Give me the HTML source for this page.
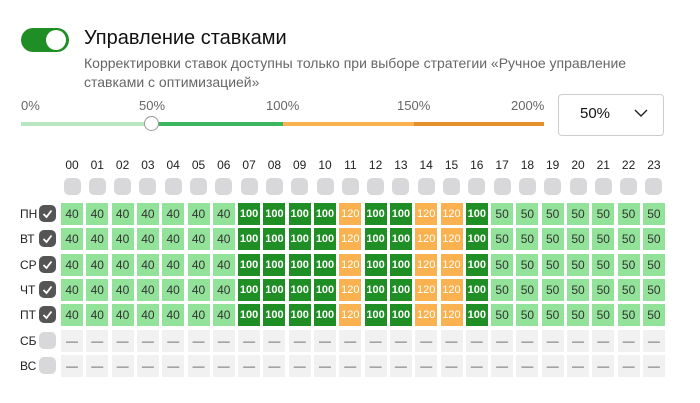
<!DOCTYPE html>
<html><head><meta charset="utf-8"><style>
body{margin:0;width:700px;height:403px;background:#fff;font-family:"Liberation Sans","DejaVu Sans",sans-serif;position:relative;overflow:hidden}
.a{position:absolute}
.c{position:absolute;width:22px;height:22px;font-size:12px;line-height:22px;text-align:center}
.l{background:#93e29a;color:#333}
.d{background:#1f8f25;color:#fff;font-weight:bold;font-size:11px}
.o{background:#f9b24f;color:#fff;font-size:11px}
.e{background:#f1f1f1;color:#555}
.h{position:absolute;font-size:12px;color:#222;width:24px;text-align:center}
.hb{position:absolute;width:17px;height:17px;border-radius:5px;background:#d8d8da}
.dl{position:absolute;font-size:12px;color:#222;left:20px}
.cb{position:absolute;left:39px;width:17px;height:17px;border-radius:5px;background:#555}
</style></head><body>
<div class="a" style="left:21px;top:28px;width:48px;height:24px;border-radius:12px;background:#1f8f25"></div>
<div class="a" style="left:46px;top:30px;width:20px;height:20px;border-radius:10px;background:#fff"></div>
<div class="a" style="left:84px;top:27px;font-size:20px;color:#111">Управление ставками</div>
<div class="a" style="left:84px;top:54px;font-size:14px;color:#666;line-height:19px;width:580px">Корректировки ставок доступны только при выборе стратегии «Ручное управление ставками с оптимизацией»</div>
<div class="a" style="left:21px;top:98px;font-size:13px;color:#666">0%</div>
<div class="a" style="left:139px;top:98px;font-size:13px;color:#666">50%</div>
<div class="a" style="left:266px;top:98px;font-size:13px;color:#666">100%</div>
<div class="a" style="left:397px;top:98px;font-size:13px;color:#666">150%</div>
<div class="a" style="left:511px;top:98px;font-size:13px;color:#666">200%</div>
<div class="a" style="left:21px;top:122px;width:131px;height:4px;background:#b9e6c0"></div>
<div class="a" style="left:152px;top:122px;width:131px;height:4px;background:#3cb661"></div>
<div class="a" style="left:283px;top:122px;width:131px;height:4px;background:#f9b24f"></div>
<div class="a" style="left:414px;top:122px;width:130px;height:4px;background:#e38f2a"></div>
<div class="a" style="left:144px;top:116px;width:13px;height:13px;border-radius:8px;background:#fff;border:1px solid #999"></div>
<div class="a" style="left:558px;top:94px;width:104px;height:40px;border:1px solid #ccc;border-radius:4px"></div>
<div class="a" style="left:580px;top:105px;font-size:15px;color:#111">50%</div>
<svg class="a" style="left:634px;top:109px" width="14" height="9"><path d="M1 1L7 7L13 1" fill="none" stroke="#222" stroke-width="1.4"/></svg>
<div id="g"></div>
<script>
var g='';var cls=['l','l','l','l','l','l','l','d','d','d','d','o','d','d','o','o','d','l','l','l','l','l','l','l'];
var val=[40,40,40,40,40,40,40,100,100,100,100,120,100,100,120,120,100,50,50,50,50,50,50,50];
var days=['ПН','ВТ','СР','ЧТ','ПТ','СБ','ВС'];
for(var i=0;i<24;i++){var x=61+25.3*i;g+='<div class="h" style="left:'+(x-1)+'px;top:158px">'+(i<10?'0':'')+i+'</div><div class="hb" style="left:'+(x+2.5)+'px;top:178px"></div>';}
for(var r=0;r<7;r++){var y=203+25.3*r;g+='<div class="dl" style="top:'+(y+4)+'px">'+days[r]+'</div>';
g+= r<5?'<div class="cb" style="top:'+(y+2)+'px"><svg width="17" height="17"><path d="M4.5 9L7.5 12L12.5 5.5" fill="none" stroke="#fff" stroke-width="1.8"/></svg></div>':'<div class="cb" style="top:'+(y+2)+'px;background:#d8d8da"></div>';
for(var i=0;i<24;i++){var x=61+25.3*i;g+= r<5?'<div class="c '+cls[i]+'" style="left:'+x+'px;top:'+y+'px">'+val[i]+'</div>':'<div class="c e" style="left:'+x+'px;top:'+y+'px">—</div>';}}
document.getElementById('g').innerHTML=g;
</script>
</body></html>
